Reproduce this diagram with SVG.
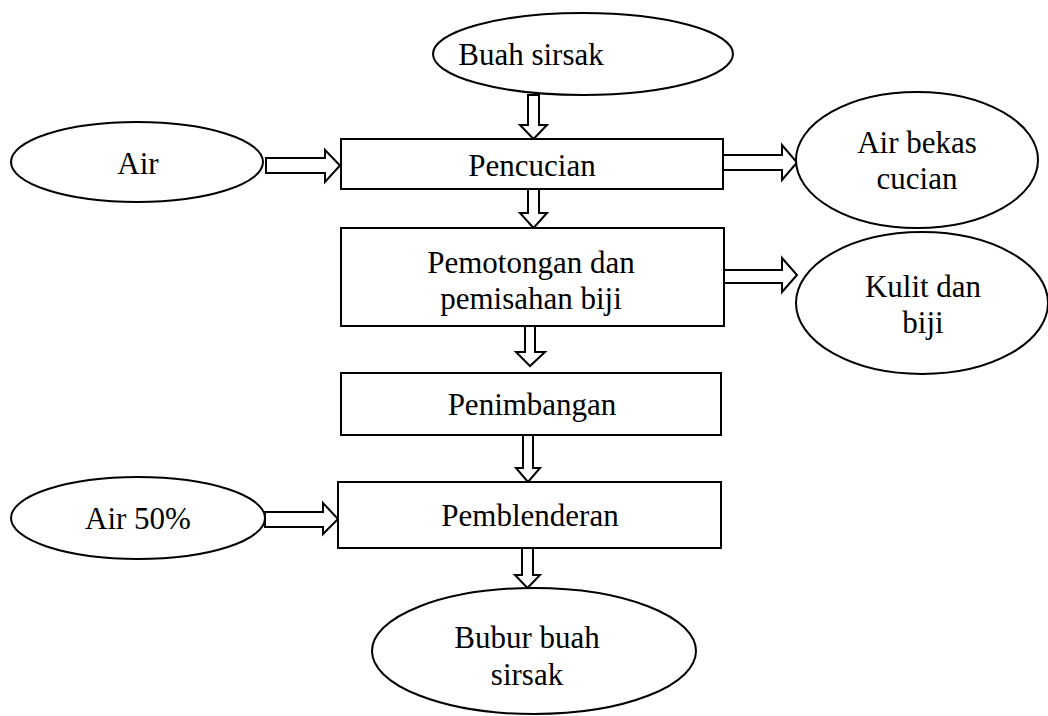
<svg xmlns="http://www.w3.org/2000/svg" width="1048" height="716" viewBox="0 0 1048 716">
<style>
.shape{fill:#fff;stroke:#000;stroke-width:2}
.arr{fill:#fff;stroke:#000;stroke-width:2;stroke-linejoin:miter}
text{font-family:"Liberation Serif","Times New Roman",serif;font-size:31px;fill:#000;text-anchor:middle}
</style>
<rect width="1048" height="716" fill="#fff"/>
<g id="connectors">
<polygon class="arr" points="528,95 539,95 539,125 547,125 533.5,139 520,125 528,125"/>
<polygon class="arr" points="528,189 539,189 539,213 547,213 533.5,228 520,213 528,213"/>
<polygon class="arr" points="525,326 535,326 535,352 545,352 530,366 516,352 525,352"/>
<polygon class="arr" points="523,435 533,435 533,468 540,468 528,482 516,468 523,468"/>
<polygon class="arr" points="522,548 533,548 533,575 540,575 527.5,588 515,575 522,575"/>
<polygon class="arr" points="266,158 325,158 325,150 340,165.5 325,182 325,173 266,173"/>
<polygon class="arr" points="265,512 323,512 323,503 338,519 323,534 323,527 265,527"/>
<polygon class="arr" points="723,155 782,155 782,145 797,162.5 782,180 782,170 723,170"/>
<polygon class="arr" points="724,270 782,270 782,258 797,275 782,292 782,283 724,283"/>
</g>
<g id="buah-sirsak">
<ellipse class="shape" cx="583" cy="54" rx="150" ry="41"/>
<text x="531" y="65">Buah sirsak</text>
</g>
<g id="air">
<ellipse class="shape" cx="137" cy="162" rx="126" ry="40"/>
<text x="138" y="174">Air</text>
</g>
<g id="pencucian">
<rect class="shape" x="341" y="139" width="382" height="50"/>
<text x="532" y="176">Pencucian</text>
</g>
<g id="air-bekas-cucian">
<ellipse class="shape" cx="917" cy="160" rx="121" ry="68"/>
<text x="917" y="153">Air bekas</text>
<text x="917" y="189">cucian</text>
</g>
<g id="pemotongan">
<rect class="shape" x="341" y="228" width="383" height="98"/>
<text x="531" y="273">Pemotongan dan</text>
<text x="531" y="309">pemisahan biji</text>
</g>
<g id="kulit-dan-biji">
<ellipse class="shape" cx="922" cy="303" rx="126" ry="71"/>
<text x="923" y="297">Kulit dan</text>
<text x="923" y="333">biji</text>
</g>
<g id="penimbangan">
<rect class="shape" x="341" y="373" width="380" height="62"/>
<text x="532" y="415">Penimbangan</text>
</g>
<g id="air-50">
<ellipse class="shape" cx="138" cy="518" rx="127" ry="41"/>
<text x="138" y="529">Air 50%</text>
</g>
<g id="pemblenderan">
<rect class="shape" x="338" y="482" width="383" height="66"/>
<text x="530" y="526">Pemblenderan</text>
</g>
<g id="bubur-buah-sirsak">
<ellipse class="shape" cx="534" cy="651" rx="162" ry="63"/>
<text x="527" y="648">Bubur buah</text>
<text x="527" y="685">sirsak</text>
</g>
</svg>
